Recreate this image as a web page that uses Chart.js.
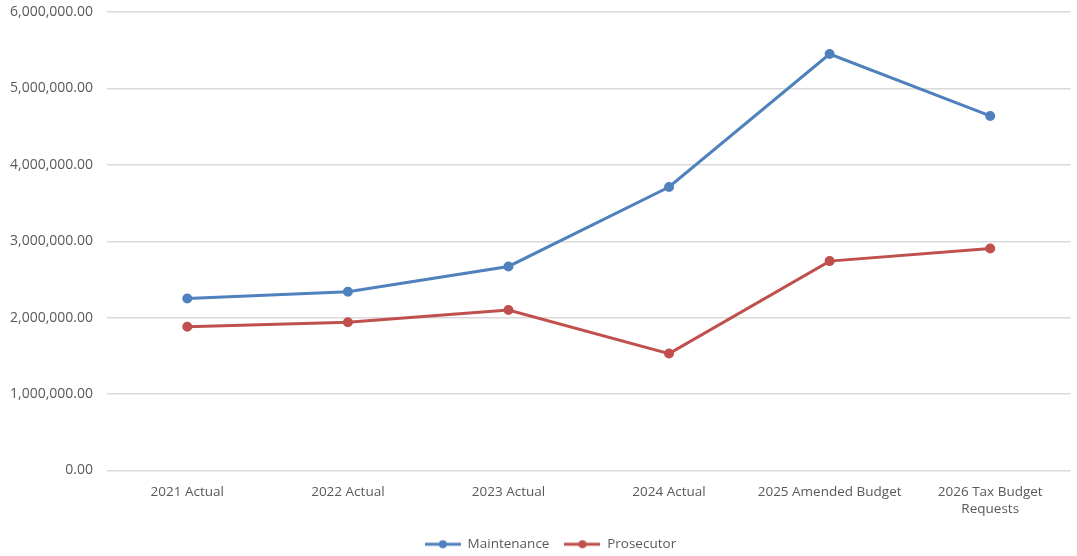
<!DOCTYPE html>
<html>
<head>
<meta charset="utf-8">
<script src="https://cdn.jsdelivr.net/npm/chart.js@4.4.0/dist/chart.umd.min.js"></script>
<style>
  html, body { margin: 0; padding: 0; background: #fff; }
  #wrap { width: 1077px; height: 556px; position: relative; }
</style>
</head>
<body>
<div id="wrap"><canvas id="budget-chart"></canvas></div>
<script>
const categories = ['2021 Actual', '2022 Actual', '2023 Actual', '2024 Actual', '2025 Amended Budget', ['2026 Tax Budget', 'Requests']];
const maintenance = [2250000, 2340000, 2670000, 3710000, 5450000, 4640000];
const prosecutor = [1880000, 1940000, 2100000, 1530000, 2740000, 2905000];
const yTicks = [0, 1000000, 2000000, 3000000, 4000000, 5000000, 6000000];

const BLUE = '#4f81bd';
const RED = '#c0504d';

// legend marker: short line with a dot, like the office style
function legendMarker(color) {
  const c = document.createElement('canvas');
  c.width = 36;
  c.height = 10;
  const ctx = c.getContext('2d');
  ctx.strokeStyle = color;
  ctx.lineWidth = 3;
  ctx.beginPath();
  ctx.moveTo(0, 5);
  ctx.lineTo(36, 5);
  ctx.stroke();
  ctx.fillStyle = color;
  ctx.beginPath();
  ctx.arc(18, 5, 4, 0, Math.PI * 2);
  ctx.fill();
  return c;
}

const markers = [legendMarker(BLUE), legendMarker(RED)];
const fontFamily = '"Open Sans", "Noto Sans", sans-serif';
const textColor = '#595959';

// the reference legend sits a little right of the canvas centre
const legendNudge = {
  id: 'legendNudge',
  afterLayout(chart) {
    chart.legend.left += 13;
    chart.legend.right += 13;
  }
};

new Chart(document.getElementById('budget-chart').getContext('2d'), {
  type: 'line',
  data: {
    labels: categories,
    datasets: [
      {
        label: 'Maintenance',
        data: maintenance,
        borderColor: BLUE,
        backgroundColor: BLUE,
        borderWidth: 3,
        pointRadius: 3.5,
        pointHoverRadius: 3.5,
        tension: 0
      },
      {
        label: 'Prosecutor',
        data: prosecutor,
        borderColor: RED,
        backgroundColor: RED,
        borderWidth: 3,
        pointRadius: 3.5,
        pointHoverRadius: 3.5,
        tension: 0
      }
    ]
  },
  plugins: [legendNudge],
  options: {
    responsive: true,
    maintainAspectRatio: false,
    animation: false,
    layout: { padding: { top: 12, right: 2, bottom: -5, left: 0 } },
    plugins: {
      tooltip: { enabled: false },
      legend: {
        position: 'bottom',
        labels: {
          usePointStyle: true,
          pointStyleWidth: 36,
          boxHeight: 10,
          color: textColor,
          font: { family: fontFamily, size: 13.5 },
          padding: 15,
          generateLabels: (chart) => {
            const items = Chart.defaults.plugins.legend.labels.generateLabels(chart);
            items.forEach((item, i) => { item.pointStyle = markers[i]; });
            return items;
          }
        }
      }
    },
    scales: {
      x: {
        offset: true,
        grid: { display: false, drawTicks: false },
        border: { display: false },
        afterFit: (axis) => { axis.height = 52; },
        ticks: {
          color: textColor,
          font: { family: fontFamily, size: 13.5 },
          padding: 14,
          maxRotation: 0,
          autoSkip: false
        }
      },
      y: {
        min: 0,
        max: 6000000,
        afterBuildTicks: (axis) => { axis.ticks = yTicks.map((v) => ({ value: v })); },
        afterFit: (axis) => { axis.width = 107; axis.paddingTop = 0; axis.paddingBottom = 0; },
        grid: { color: '#d9d9d9', lineWidth: 1.5, drawTicks: false },
        border: { display: false },
        ticks: {
          color: textColor,
          font: { family: fontFamily, size: 14 },
          padding: 14,
          callback: (v) => Number(v).toLocaleString('en-US', { minimumFractionDigits: 2, maximumFractionDigits: 2 })
        }
      }
    }
  }
});
</script>
</body>
</html>
